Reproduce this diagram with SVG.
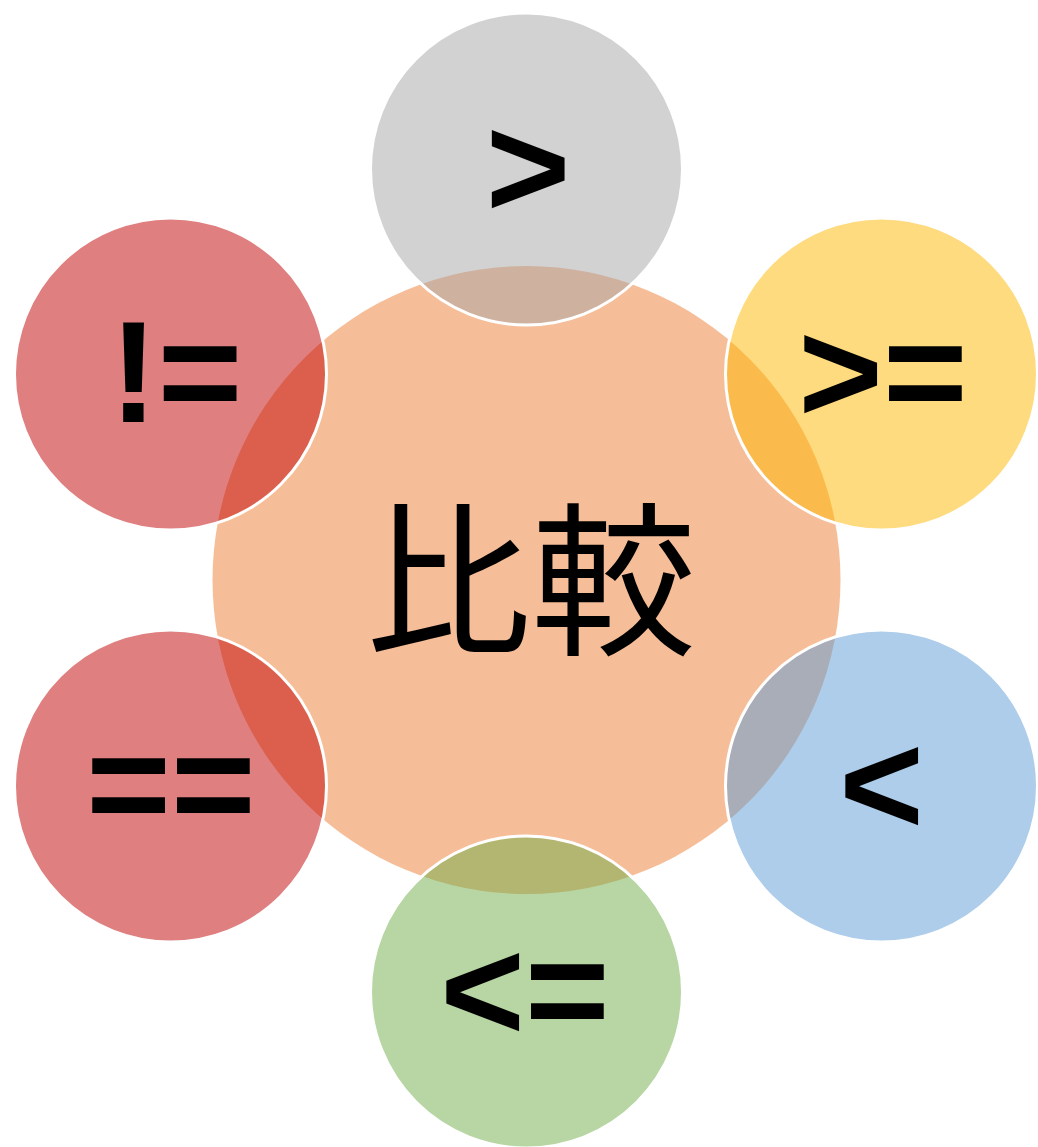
<svg xmlns="http://www.w3.org/2000/svg" width="1038" height="1147" viewBox="0 0 1038 1147">
<style>
.outer{stroke:#ffffff;stroke-width:3}
.sym{font-family:"Liberation Sans",Arial,sans-serif;font-weight:bold;font-size:145px;fill:#000000;text-anchor:middle}
.ctr{font-family:"Noto Sans CJK JP","Noto Sans CJK SC",sans-serif;font-size:165px;fill:#000000;text-anchor:middle}
</style>
<rect width="1038" height="1147" fill="#ffffff"/>
<g id="center">
<circle cx="526.5" cy="580" r="314" fill="#ED7D31" fill-opacity="0.5"/>
<text class="ctr" x="531" y="642">比較</text>
</g>
<g id="gt">
<circle class="outer" cx="526.5" cy="169" r="156" fill="#A5A5A5" fill-opacity="0.5"/>
<text class="sym" x="528" y="217">&gt;</text>
</g>
<g id="ge">
<circle class="outer" cx="881.5" cy="374" r="156" fill="#FFB800" fill-opacity="0.5"/>
<text class="sym" x="883" y="422">&gt;=</text>
</g>
<g id="lt">
<circle class="outer" cx="881.5" cy="786" r="156" fill="#5B9BD5" fill-opacity="0.5"/>
<text class="sym" x="881.5" y="834">&lt;</text>
</g>
<g id="le">
<circle class="outer" cx="526.5" cy="992" r="156" fill="#70AD47" fill-opacity="0.5"/>
<text class="sym" x="525" y="1040">&lt;=</text>
</g>
<g id="eq">
<circle class="outer" cx="170.5" cy="786" r="156" fill="#BF0000" fill-opacity="0.5"/>
<text class="sym" x="171" y="834">==</text>
</g>
<g id="ne">
<circle class="outer" cx="170.5" cy="374" r="156" fill="#BF0000" fill-opacity="0.5"/>
<text class="sym" x="176" y="422">!=</text>
</g>
<g id="connectors"></g>
</svg>
